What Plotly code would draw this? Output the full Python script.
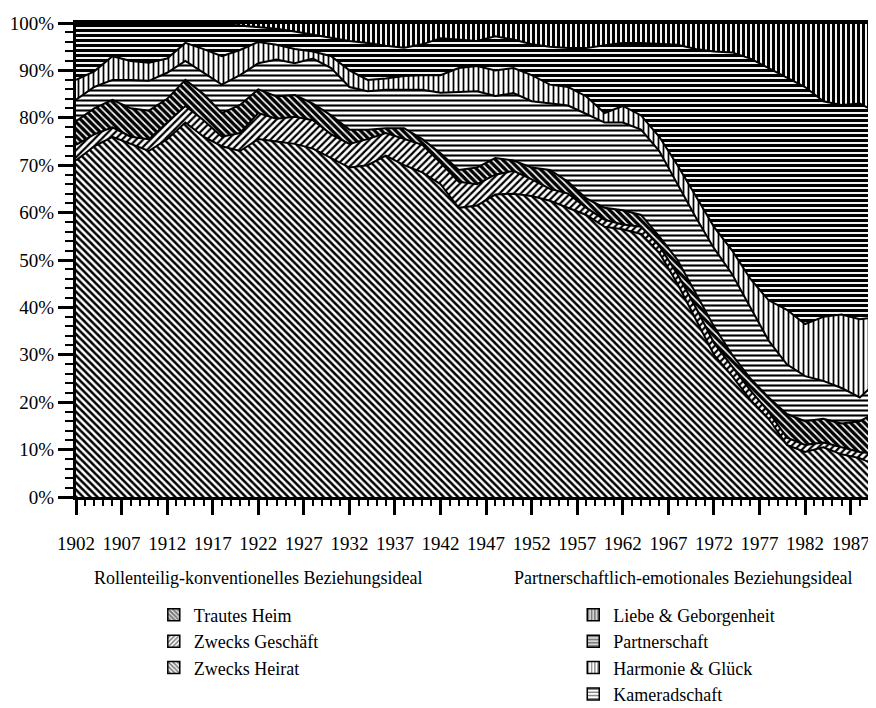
import plotly.graph_objects as go

years = [1902, 1904, 1906, 1908, 1910, 1912, 1914, 1916, 1918, 1920,
         1922, 1924, 1926, 1928, 1930, 1932, 1934, 1936, 1938, 1940,
         1942, 1944, 1946, 1948, 1950, 1952, 1954, 1956, 1958, 1960,
         1962, 1964, 1966, 1968, 1970, 1972, 1974, 1976, 1978, 1980,
         1982, 1984, 1986, 1988, 1990]

zwecks_heirat = [71, 74, 76, 74.5, 73, 75.5, 79, 76, 74, 73,
                 75.5, 75, 74.5, 73.5, 71.5, 69.5, 70, 72, 70, 68.5,
                 66, 61, 61.5, 63.8, 64, 63.5, 62.5, 61, 59.5, 57,
                 56.5, 55.5, 51.5, 45, 37.5, 30, 25.5, 20.5, 16.5, 11,
                 9.5, 10.5, 9, 8.2, 6.5]
zwecks_geschaeft = [3.3, 2.5, 2, 1.5, 2.5, 3.5, 3.5, 3.5, 2, 3.8,
                    5.5, 4.8, 5.7, 6, 5, 5, 5.5, 4.8, 5.5, 5.8,
                    4.5, 5.5, 4.5, 4.2, 4.8, 3.5, 2.5, 3, 1.5, 1.5,
                    1, 1.5, 1.5, 2, 2.5, 2.5, 2, 2, 1.5, 1.5,
                    1.5, 1, 1.5, 1.3, 2.5]
trautes_heim = [5, 5.5, 5.8, 6, 6, 5, 5.5, 5.5, 5, 5.9,
                5, 4.7, 4.6, 3.5, 4, 3, 2, 1, 2.3, 1.2,
                2, 2.5, 3.5, 3.5, 2.2, 2.5, 4, 2.5, 2, 2.5,
                3, 2.5, 2, 3, 3, 3.5, 2.5, 2.5, 3, 5,
                5, 5, 5, 6.5, 9]
kameradschaft = [4.5, 4.5, 4.2, 6, 6.3, 5.5, 4, 4.5, 6, 6.3,
                 5.5, 7.8, 6.7, 9.5, 10, 9, 8.1, 8.1, 8.1, 10.4,
                 12.8, 16.5, 16.1, 13.1, 14.2, 14, 14, 16.1, 17.8, 18,
                 18.5, 18, 18, 16, 16, 16.5, 17, 15, 12, 10.5,
                 9.5, 8, 7.5, 5, 6.5]
harmonie_glueck = [4.2, 3.3, 5, 4, 3.8, 3, 3.8, 5, 6, 5.3,
                   4.5, 3.1, 3, 1.5, 2.5, 3.5, 2.4, 2.4, 2.9, 3.1,
                   3.7, 5, 5.3, 5.4, 5.3, 5.5, 4, 3.9, 3.7, 2,
                   3.5, 3, 3, 4, 4.5, 4.5, 5, 6, 8.5, 11.5,
                   11, 13.5, 15.5, 16.5, 13.5]
partnerschaft = [12, 10.2, 7, 8, 8.4, 7.5, 4.2, 5.5, 6.8, 5.2,
                 3.2, 3.4, 3.7, 3.5, 3.8, 6.2, 7.8, 6.9, 6, 6.5,
                 7.8, 6, 5.3, 7.2, 6, 6.5, 8, 8.2, 10.2, 14.3,
                 13.3, 15.3, 19.6, 25.4, 31, 37, 41.8, 46.5, 49, 49,
                 50, 45.5, 44.2, 45.5, 43]
liebe_geborgenheit = [0, 0, 0, 0, 0, 0, 0, 0, 0.2, 0.5,
                      0.8, 1.2, 1.8, 2.5, 3.2, 3.8, 4.2, 4.8, 5.2, 4.5,
                      3.2, 3.5, 3.8, 2.8, 3.5, 4.5, 5, 5.3, 5.3, 4.7,
                      4.2, 4.2, 4.4, 4.6, 5.5, 6, 6.2, 7.5, 9.5, 11.5,
                      13.5, 16.5, 17.3, 17, 19]

x_tick_labels = ["1902", "1907", "1912", "1917", "1922", "1927", "1932", "1937", "1942",
                 "1947", "1952", "1957", "1962", "1967", "1972", "1977", "1982", "1987"]
x_tick_vals = [int(t) for t in x_tick_labels]
y_tick_vals = [0, 10, 20, 30, 40, 50, 60, 70, 80, 90, 100]
y_tick_labels = [f"{v}%" for v in y_tick_vals]

header_left = "Rollenteilig-konventionelles Beziehungsideal"
header_right = "Partnerschaftlich-emotionales Beziehungsideal"

# name, values, pattern shape, solidity, legend id
series = [
    ("Zwecks Heirat", zwecks_heirat, "\\", 0.5, "legend"),
    ("Zwecks Geschäft", zwecks_geschaeft, "/", 0.45, "legend"),
    ("Trautes Heim", trautes_heim, "\\", 0.68, "legend"),
    ("Kameradschaft", kameradschaft, "-", 0.42, "legend2"),
    ("Harmonie & Glück", harmonie_glueck, "|", 0.35, "legend2"),
    ("Partnerschaft", partnerschaft, "-", 0.62, "legend2"),
    ("Liebe & Geborgenheit", liebe_geborgenheit, "|", 0.62, "legend2"),
]
style = {s[0]: s for s in series}

FONT = "Liberation Serif, Times New Roman, serif"

fig = go.Figure()
for name, vals, shape, sol, _ in series:
    fig.add_trace(go.Scatter(
        x=years, y=vals, name=name, mode="lines", stackgroup="one",
        line=dict(color="black", width=2),
        fillpattern=dict(shape=shape, fgcolor="black", bgcolor="white",
                         size=5, solidity=sol, fillmode="replace"),
        showlegend=False, hoverinfo="x+y+name",
    ))

# legend entries (patterned swatches) in the order of the reference
legend_order = [("Trautes Heim", "legend"), ("Zwecks Geschäft", "legend"), ("Zwecks Heirat", "legend"),
                ("Liebe & Geborgenheit", "legend2"), ("Partnerschaft", "legend2"),
                ("Harmonie & Glück", "legend2"), ("Kameradschaft", "legend2")]
for name, lg in legend_order:
    _, _, shape, sol, _ = style[name]
    fig.add_trace(go.Bar(
        x=[None], y=[None], name=name, legend=lg, legendgroup=name,
        marker=dict(color="white",
                    line=dict(color="black", width=1.5),
                    pattern=dict(shape=shape, fgcolor="black", bgcolor="white",
                                 size=4, solidity=min(sol + 0.05, 0.75))),
        showlegend=True, hoverinfo="skip",
    ))

fig.update_layout(
    width=876, height=708,
    margin=dict(l=68, r=6, t=15, b=219, autoexpand=False),
    paper_bgcolor="white", plot_bgcolor="white",
    font=dict(family=FONT, size=18, color="black"),
    showlegend=True,
    legend=dict(x=0.097, y=-0.21, xanchor="left", yanchor="top",
                font=dict(family=FONT, size=18, color="black"),
                traceorder="grouped", tracegroupgap=0, bgcolor="rgba(0,0,0,0)",
                itemclick=False, itemdoubleclick=False),
    legend2=dict(x=0.62, y=-0.21, xanchor="left", yanchor="top",
                 font=dict(family=FONT, size=18, color="black"),
                 traceorder="grouped", tracegroupgap=0, bgcolor="rgba(0,0,0,0)",
                 itemclick=False, itemdoubleclick=False),
    annotations=[
        dict(text=header_left, x=0.227, y=-0.171, xref="paper", yref="paper",
             showarrow=False, xanchor="center", yanchor="middle",
             font=dict(family=FONT, size=18, color="black")),
        dict(text=header_right, x=0.757, y=-0.171, xref="paper", yref="paper",
             showarrow=False, xanchor="center", yanchor="middle",
             font=dict(family=FONT, size=18, color="black")),
    ],
)

fig.update_xaxes(
    range=[1902, 1990], tickmode="array", tickvals=x_tick_vals, ticktext=x_tick_labels,
    ticks="outside", ticklen=15, tickwidth=2.5, tickcolor="black",
    minor=dict(dtick=1, tick0=1902, ticks="outside", ticklen=6, tickwidth=2, tickcolor="black"),
    showline=True, linewidth=3, linecolor="black", mirror=True,
    showgrid=False, zeroline=False, ticklabelstandoff=12,
    tickfont=dict(family=FONT, size=19, color="black"),
)
fig.update_yaxes(
    range=[0, 100], tickmode="array", tickvals=y_tick_vals, ticktext=y_tick_labels,
    ticks="outside", ticklen=15, tickwidth=2.5, tickcolor="black",
    minor=dict(dtick=2, tick0=0, ticks="outside", ticklen=8, tickwidth=2, tickcolor="black"),
    showline=True, linewidth=3, linecolor="black", mirror=True,
    showgrid=False, zeroline=False,
    tickfont=dict(family=FONT, size=19, color="black"),
)

fig.write_html("out.html")
